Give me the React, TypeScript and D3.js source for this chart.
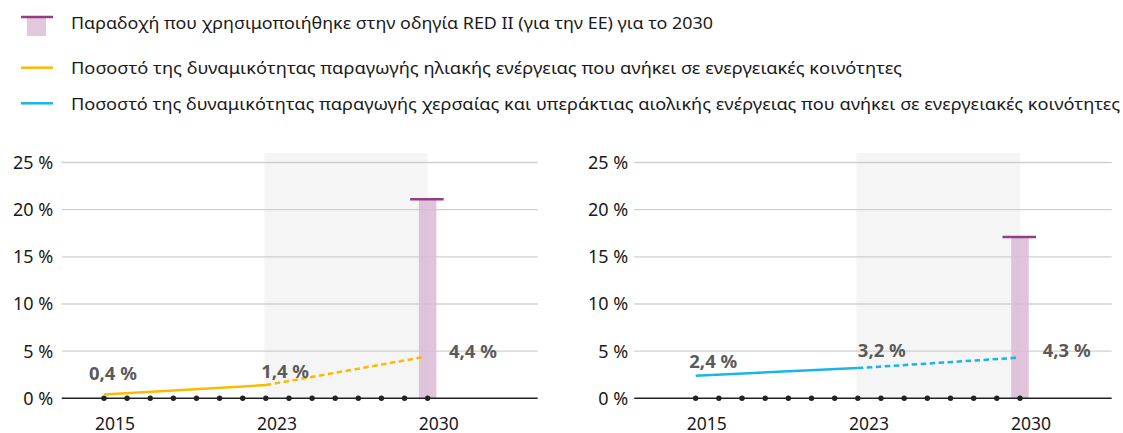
import React, { useEffect, useRef } from "react"
import * as d3 from "d3"

// values
const legendLabels = [
  "Παραδοχή που χρησιμοποιήθηκε στην οδηγία RED II (για την ΕΕ) για το 2030",
  "Ποσοστό της δυναμικότητας παραγωγής ηλιακής ενέργειας που ανήκει σε ενεργειακές κοινότητες",
  "Ποσοστό της δυναμικότητας παραγωγής χερσαίας και υπεράκτιας αιολικής ενέργειας που ανήκει σε ενεργειακές κοινότητες",
]
const yearLabels = ["2015", "2023", "2030"]
const yearSteps = [0, 7, 14] // where each year sits on the dotted axis
const axisSteps = d3.range(15)
const yTicks = [0, 5, 10, 15, 20, 25]
const solarValues = [0.4, 1.4, 4.4]
const windValues = [2.4, 3.2, 4.3]
const redTargets = [21.1, 17.1]

const W = 1123
const H = 433
const FONT = "'Noto Sans', sans-serif"
const COLORS = { solar: "#fbb900", wind: "#19b5e5", bar: "#d9bad5", cap: "#953c84" }

// panel geometry: plot box + step domain
const panels = [
  { x0: 61.7, x1: 537.7, dom: [-1.83, 18.76], values: solarValues, color: COLORS.solar, target: redTargets[0],
    labelOff: [[-15, -14.5], [-4.7, -7], [21.3, 1]], tickRight: 53.3 },
  { x0: 634.3, x1: 1111.7, dom: [-2.65, 17.96], values: windValues, color: COLORS.wind, target: redTargets[1],
    labelOff: [[-6.4, -7.4], [0, -10.8], [22.7, -1]], tickRight: 628.3 },
]

const fmt = (v: number) => d3.format(".1f")(v).replace(".", ",") + " %"

function App() {
  const svgRef = useRef<SVGSVGElement>(null)

  useEffect(() => {
    const svg = d3.select(svgRef.current)
    svg.selectAll("*").remove()

    // legend
    const lg = svg.append("g").attr("font-family", FONT).attr("font-size", 17).attr("fill", "#1a1a1a")
    lg.append("rect").attr("x", 27).attr("y", 17).attr("width", 19).attr("height", 19).attr("fill", COLORS.bar).attr("opacity", 0.8)
    lg.append("line").attr("x1", 21).attr("x2", 53).attr("y1", 17).attr("y2", 17)
      .attr("stroke", COLORS.cap).attr("stroke-width", 2.5)
    lg.append("line").attr("x1", 21).attr("x2", 53).attr("y1", 67.7).attr("y2", 67.7)
      .attr("stroke", COLORS.solar).attr("stroke-width", 2.5)
    lg.append("line").attr("x1", 21).attr("x2", 53).attr("y1", 103.3).attr("y2", 103.3)
      .attr("stroke", COLORS.wind).attr("stroke-width", 2.5)
    const legendY = [29, 74, 110]
    const legendW = [642, 831, 1049]
    legendLabels.forEach((t, i) => {
      lg.append("text").attr("x", 71).attr("y", legendY[i])
        .attr("textLength", legendW[i]).attr("lengthAdjust", "spacingAndGlyphs")
        .text(t)
    })

    const y = d3.scaleLinear().domain([0, 25]).range([398.3, 162.5])

    panels.forEach(p => {
      const x = d3.scaleLinear().domain(p.dom).range([p.x0, p.x1])
      const g = svg.append("g")

      // projection period shading
      g.append("rect")
        .attr("x", x(yearSteps[1]) - 1.5).attr("y", y(26))
        .attr("width", x(yearSteps[2]) - x(yearSteps[1]) + 1.5).attr("height", y(0) - y(26))
        .attr("fill", "#f5f5f5")

      // grid
      g.selectAll(".grid").data(yTicks.filter(d => d > 0)).enter().append("line")
        .attr("x1", p.x0).attr("x2", p.x1)
        .attr("y1", d => y(d)).attr("y2", d => y(d))
        .attr("stroke", "#d0d0d0").attr("stroke-width", 1.3)

      g.selectAll(".ytick").data(yTicks).enter().append("text")
        .attr("x", p.tickRight).attr("y", d => y(d) + 6.5)
        .attr("text-anchor", "end").attr("font-family", FONT).attr("font-size", 18).attr("fill", "#1a1a1a")
        .text(d => d + " %")

      // RED II bar
      const bw = 17.5
      g.append("rect")
        .attr("x", x(yearSteps[2]) - bw / 2).attr("y", y(p.target))
        .attr("width", bw).attr("height", y(0) - y(p.target))
        .attr("fill", COLORS.bar).attr("opacity", 0.85)
      g.append("line")
        .attr("x1", x(yearSteps[2]) - 17.5).attr("x2", x(yearSteps[2]) + 16)
        .attr("y1", y(p.target)).attr("y2", y(p.target))
        .attr("stroke", COLORS.cap).attr("stroke-width", 2.5)

      // baseline + dots
      g.append("line").attr("x1", p.x0).attr("x2", p.x1).attr("y1", y(0)).attr("y2", y(0))
        .attr("stroke", "#222").attr("stroke-width", 1.5)
      g.selectAll(".dot").data(axisSteps).enter().append("circle")
        .attr("cx", d => x(d)).attr("cy", y(0)).attr("r", 2.7).attr("fill", "#222")

      g.selectAll(".year").data(yearLabels).enter().append("text")
        .attr("x", (d, i) => x(yearSteps[i] + 0.48)).attr("y", 429.5)
        .attr("text-anchor", "middle").attr("font-family", FONT).attr("font-size", 17.5).attr("fill", "#1a1a1a")
        .text(d => d)

      // series: solid history, dashed projection
      const pts = p.values.map((v, i) => [x(yearSteps[i]), y(v)] as [number, number])
      const line = d3.line()
      g.append("path").attr("d", line(pts.slice(0, 2))).attr("fill", "none")
        .attr("stroke", p.color).attr("stroke-width", 2.5)
      g.append("path").attr("d", line([pts[1], [pts[2][0] - 2.5, pts[2][1]]])).attr("fill", "none")
        .attr("stroke", p.color).attr("stroke-width", 2.5).attr("stroke-dasharray", "5.5,3.5")

      g.selectAll(".val").data(p.values).enter().append("text")
        .attr("x", (d, i) => pts[i][0] + p.labelOff[i][0])
        .attr("y", (d, i) => pts[i][1] + p.labelOff[i][1])
        .attr("font-family", FONT).attr("font-size", 18.5).attr("font-weight", "bold").attr("fill", "#5a5a5a")
        .text(d => fmt(d))
    })
  }, [])

  return (
    <svg ref={svgRef} width={W} height={H}
      style={{ position: "absolute", left: 0, top: 0, background: "#fff" }} />
  )
}

export default App
